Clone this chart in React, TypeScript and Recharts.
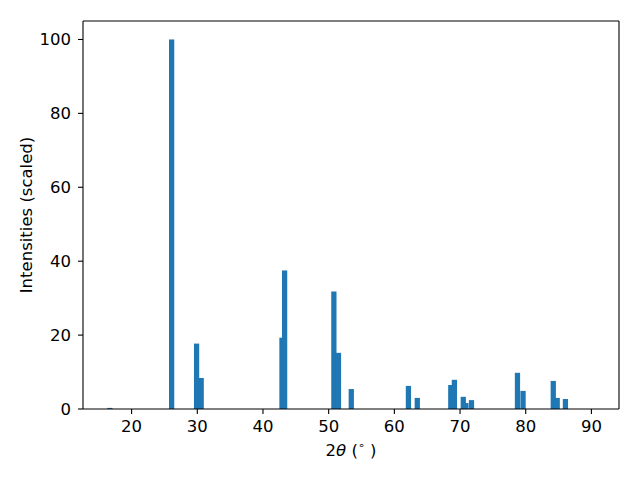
import React from "react";
import { BarChart, Bar, XAxis, YAxis, ReferenceLine } from "recharts";

// peak positions (2θ, degrees) and scaled intensities
const twoTheta = [
	16.7, 26.1, 29.9, 30.6, 42.9, 43.3, 50.8, 51.5, 53.45, 62.15, 63.5, 68.6, 69.15, 70.5, 70.9, 71.75,
	78.75, 79.6, 84.2, 84.8, 86.05,
];
const intensities = [
	0.3, 100, 17.7, 8.4, 19.3, 37.5, 31.8, 15.2, 5.4, 6.25, 3.0, 6.5, 7.9, 3.3, 1.6, 2.4, 9.8, 4.9, 7.6,
	3.0, 2.7,
];
const xTicks = [20, 30, 40, 50, 60, 70, 80, 90];
const yTicks = [0, 20, 40, 60, 80, 100];

const X_DOMAIN = [12.6, 94.2];
const Y_DOMAIN = [0, 105];
const BAR_W = 0.8; // bar width in 2θ units

const data = twoTheta.map((t, i) => ({ t, v: intensities[i] }));

const FONT = "DejaVu Sans, sans-serif";
const FS = 16.5;
const tickStyle = { fill: "#000", fontSize: FS, fontFamily: FONT };
const line = { stroke: "#000", strokeWidth: 1.1 };

// plot is 536px wide for the x domain
const pxPerUnit = 536 / (X_DOMAIN[1] - X_DOMAIN[0]);

// recharts squeezes bars to the smallest gap; redraw them at full width around the same centre
const PeakBar = (props: any) => {
	const { x, y, width, height, fill } = props;
	if (!height || height <= 0) return null;
	const w = BAR_W * pxPerUnit;
	const cx = x + width / 2;
	return <rect x={cx - w / 2} y={y} width={w} height={height} fill={fill} />;
};

const XLabel = (props: any) => {
	const vb = props.viewBox;
	const cx = vb.x + vb.width / 2;
	return (
		<text x={cx} y={456} textAnchor="middle" fontSize={FS} fontFamily={FONT} fill="#000">
			<tspan>2</tspan>
			<tspan fontStyle="italic">θ</tspan>
			<tspan> (</tspan>
			<tspan fontSize={11} dy={-7}>∘</tspan>
			<tspan dy={7}> )</tspan>
		</text>
	);
};

const YLabel = (props: any) => {
	const vb = props.viewBox;
	const cy = vb.y + vb.height / 2;
	return (
		<text
			x={32}
			y={cy}
			transform={`rotate(-90, 32, ${cy})`}
			textAnchor="middle"
			fontSize={FS}
			fontFamily={FONT}
			fill="#000"
		>
			Intensities (scaled)
		</text>
	);
};

const App: React.FC = () => {
	return (
		<div style={{ position: "absolute", left: 0, top: 0 }}>
			<BarChart
				width={640}
				height={480}
				data={data}
				margin={{ top: 21, right: 21, left: 0, bottom: 0 }}
			>
				<XAxis
					type="number"
					dataKey="t"
					domain={X_DOMAIN}
					ticks={xTicks}
					allowDataOverflow
					height={71}
					tick={tickStyle}
					tickSize={5}
					tickMargin={6}
					tickLine={line}
					axisLine={line}
					label={<XLabel />}
				/>
				<YAxis
					type="number"
					domain={Y_DOMAIN}
					ticks={yTicks}
					allowDataOverflow
					width={83}
					tick={tickStyle}
					tickSize={5}
					tickMargin={7}
					tickLine={line}
					axisLine={line}
					label={<YLabel />}
				/>
				<Bar dataKey="v" fill="#1f77b4" shape={<PeakBar />} isAnimationActive={false} />
				<ReferenceLine y={Y_DOMAIN[1]} stroke="#000" strokeWidth={1.1} ifOverflow="visible" />
				<ReferenceLine x={X_DOMAIN[1]} stroke="#000" strokeWidth={1.1} ifOverflow="visible" />
			</BarChart>
		</div>
	);
};

export default App;
